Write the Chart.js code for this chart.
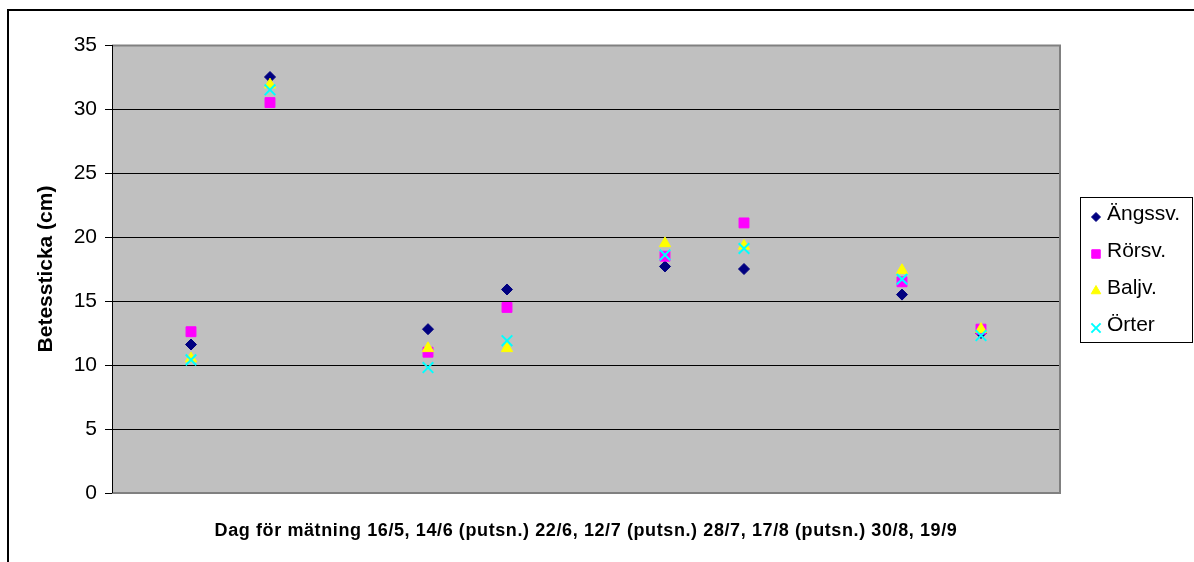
<!DOCTYPE html>
<html><head><meta charset="utf-8">
<script src="https://cdn.jsdelivr.net/npm/chart.js@4/dist/chart.umd.min.js"></script>
<style>html,body{margin:0;padding:0;background:#fff}#wrap{width:1194px;height:562px;position:relative}</style>
</head><body><div id="wrap"><canvas id="c" width="1194" height="562"></canvas></div>
<script>
const xPositions = [1, 2, 4, 5, 7, 8, 10, 11];
const seriesNames = ['Ängssv.', 'Rörsv.', 'Baljv.', 'Örter'];
const angssv = [11.6, 32.5, 12.8, 15.9, 17.7, 17.5, 15.5, 12.5];
const rorsv  = [12.6, 30.5, 11.0, 14.5, 18.5, 21.1, 16.5, 12.8];
const baljv  = [10.5, 31.9, 11.3, 11.3, 19.5, 19.3, 17.4, 12.8];
const orter  = [10.4, 31.5, 9.8, 11.9, 18.6, 19.1, 16.7, 12.3];
const yTicks = [0, 5, 10, 15, 20, 25, 30, 35];
const xTitle = 'Dag för mätning 16/5, 14/6 (putsn.) 22/6, 12/7 (putsn.) 28/7, 17/8 (putsn.) 30/8, 19/9';
const yTitle = 'Betessticka (cm)';

const FONT = "'Liberation Sans', Arial, sans-serif";
const toPts = arr => arr.map((v, i) => ({x: xPositions[i], y: v}));

const styles = [
  {pointStyle: 'rectRot', color: '#000080', radius: 5.5, bw: 1, order: 4, lr: 4.5},
  {pointStyle: 'rect', color: '#FF00FF', radius: 7, bw: 1, order: 3, lr: 6},
  {pointStyle: 'triangle', color: '#FFFF00', radius: 6.5, bw: 1, order: 2, lr: 5.5},
  {pointStyle: 'crossRot', color: '#00FFFF', radius: 7.5, bw: 2, order: 1, lr: 6.5}
];
const seriesData = [angssv, rorsv, baljv, orter];

const datasets = seriesData.map((d, i) => ({
  label: seriesNames[i],
  data: toPts(d),
  pointStyle: styles[i].pointStyle,
  pointRadius: styles[i].radius,
  pointHoverRadius: styles[i].radius,
  pointBackgroundColor: styles[i].color,
  pointBorderColor: styles[i].color,
  pointBorderWidth: styles[i].bw,
  showLine: false,
  order: styles[i].order
}));

const decor = {
  id: 'decor',
  beforeDraw(chart) {
    const {ctx, chartArea: a} = chart;
    ctx.save();
    ctx.fillStyle = '#C0C0C0';
    ctx.fillRect(a.left, a.top, a.right - a.left, a.bottom - a.top);
    ctx.restore();
  },
  beforeDatasetsDraw(chart) {
    const {ctx, chartArea: a} = chart;
    ctx.save();
    ctx.strokeStyle = '#808080';
    ctx.lineWidth = 2;
    ctx.beginPath();
    ctx.moveTo(a.left, a.top + 0.5);
    ctx.lineTo(a.right, a.top + 0.5);
    ctx.lineTo(a.right, a.bottom);
    ctx.lineTo(a.left, a.bottom);
    ctx.stroke();
    ctx.strokeStyle = '#000';
    ctx.lineWidth = 1;
    ctx.beginPath();
    ctx.moveTo(a.left + 0.5, a.top);
    ctx.lineTo(a.left + 0.5, a.bottom);
    ctx.stroke();
    ctx.restore();
  },
  afterDraw(chart) {
    const {ctx, chartArea: a} = chart;
    ctx.save();
    // outer frame
    ctx.strokeStyle = '#000';
    ctx.lineWidth = 2;
    ctx.strokeRect(8, 10, 1300, 700);
    // x axis title
    ctx.fillStyle = '#000';
    ctx.font = 'bold 18px ' + FONT;
    ctx.textAlign = 'center';
    ctx.textBaseline = 'middle';
    try { ctx.letterSpacing = '0.6px'; } catch (e) {}
    ctx.fillText(xTitle, (a.left + a.right) / 2, 531);
    try { ctx.letterSpacing = '0px'; } catch (e) {}
    // legend
    const lx = 1080, ly = 197, lw = 112, lh = 145;
    ctx.lineWidth = 1;
    ctx.strokeRect(lx + 0.5, ly + 0.5, lw, lh);
    ctx.font = '21px ' + FONT;
    ctx.textBaseline = 'middle';
    ctx.textAlign = 'left';
    const rows = [214, 251, 288, 325];
    chart.data.datasets.forEach((ds, i) => {
      const st = styles[i];
      ctx.fillStyle = st.color;
      ctx.strokeStyle = st.color;
      ctx.lineWidth = st.bw;
      Chart.helpers.drawPoint(ctx, {pointStyle: st.pointStyle, radius: st.lr, borderWidth: st.bw, rotation: 0}, 1096, rows[i] + 3);
      ctx.fillStyle = '#000';
      ctx.fillText(ds.label, 1107, rows[i]);
    });
    ctx.restore();
  }
};

new Chart(document.getElementById('c'), {
  type: 'scatter',
  data: {datasets},
  options: {
    responsive: false,
    animation: false,
    events: [],
    layout: {padding: {left: 0, top: 45, right: 134, bottom: 0}},
    plugins: {legend: {display: false}, tooltip: {enabled: false}},
    scales: {
      x: {
        type: 'linear', min: 0, max: 12,
        ticks: {display: false},
        grid: {display: false, drawTicks: false},
        border: {display: false},
        title: {display: false},
        afterFit: s => { s.height = 69; }
      },
      y: {
        min: 0, max: 35,
        afterBuildTicks: s => { s.ticks = yTicks.map(v => ({value: v})); },
        ticks: {color: '#000', font: {family: FONT, size: 21}, padding: 8},
        grid: {color: '#000', lineWidth: 1, tickLength: 7, tickColor: '#000', drawTicks: true},
        border: {display: false},
        title: {display: true, text: yTitle, color: '#000', font: {family: FONT, size: 21, weight: 'bold'}, padding: {top: 34, bottom: 0}},
        afterFit: s => { s.width = 112; }
      }
    }
  },
  plugins: [decor]
});
</script>
</body></html>
